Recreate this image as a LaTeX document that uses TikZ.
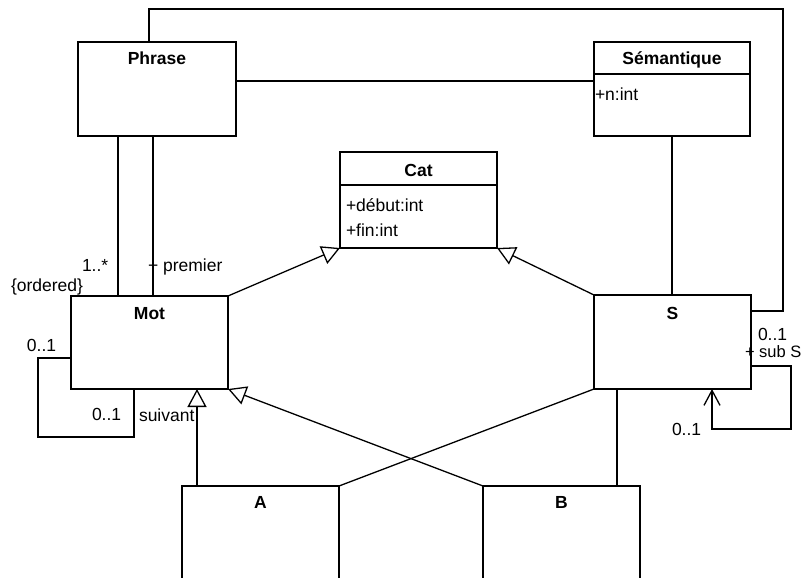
\documentclass[tikz,border=0pt]{standalone}
\usepackage{fontspec}
\setmainfont{Liberation Sans}
\usetikzlibrary{arrows.meta}
\begin{document}
\begin{tikzpicture}[x=1pt,y=-1pt,line width=1.3pt,
  every node/.style={inner sep=0pt,outer sep=0pt,font=\fontsize{17.5}{20}\selectfont},
  clsbox/.style={draw,rectangle,minimum width=157pt,minimum height=94pt},
  title/.style={anchor=base,font=\fontsize{17.5}{20}\selectfont\bfseries},
  lbl/.style={anchor=base west},
  gen/.style={-{Triangle[open,length=18pt,width=19pt]}},
  nav/.style={-{Straight Barb[length=15pt,width=16pt]}}]
\useasboundingbox (0,0) rectangle (803,578);
\clip (0,0) rectangle (803,578);
% classes
\node[clsbox,minimum width=158pt] (phrase) at (157,89) {};
\node[title] (phraset) at ([yshift=-23pt]phrase.north) {Phrase};
\node[clsbox,minimum width=156pt] (sem) at (672,89) {};
\node[title] (semt) at ([yshift=-23pt]sem.north) {Sémantique};
\draw (sem.west |- 0,74) -- (sem.east |- 0,74);
\node[lbl] (semn) at (595,100) {+n:int};
\node[clsbox,minimum height=96pt] (cat) at (418.5,200) {};
\node[title] (catt) at ([yshift=-24pt]cat.north) {Cat};
\draw (cat.west |- 0,185) -- (cat.east |- 0,185);
\node[lbl] (catd) at (346,211) {+début:int};
\node[lbl] (catf) at (346,236) {+fin:int};
\node[clsbox,minimum height=93pt] (mot) at (149.5,342.5) {};
\node[title] (mott) at ([yshift=-23pt]mot.north) {Mot};
\node[clsbox] (s) at (672.5,342) {};
\node[title] (st) at ([yshift=-24pt]s.north) {S};
\node[clsbox,minimum height=140pt] (a) at (260.5,556) {};
\node[title] (at) at ([yshift=-22pt]a.north) {A};
\node[clsbox,minimum height=140pt] (b) at (561.5,556) {};
\node[title] (bt) at ([yshift=-22pt]b.north) {B};
% connectors
\draw ([xshift=-8pt]phrase.north) -- (149,9) -- (783,9) -- (783,311) -- ([yshift=31pt]s.east);
\draw ([yshift=8pt]phrase.east) -- ([yshift=8pt]sem.west);
\draw (118,0 |- phrase.south) -- (118,0 |- mot.north);
\draw (153,0 |- phrase.south) -- (153,0 |- mot.north);
\draw (sem.south) -- (sem.south |- s.north);
\draw[gen] (mot.north east) -- (cat.south west);
\draw[gen] (s.north west) -- (cat.south east);
\draw[gen] (197,0 |- a.north) -- (197,0 |- mot.south);
\draw[gen] (b.north west) -- (mot.south east);
\draw (a.north east) -- (s.south west);
\draw (617,0 |- b.north) -- (617,0 |- s.south);
\draw ([yshift=-15.5pt]mot.west) -- (38,358) -- (38,437) -- (134,437) -- (134,0 |- mot.south);
\draw[nav] ([yshift=-24pt]s.east) -- (791,366) -- (791,429) -- (712,429) -- (712,0 |- s.south);
% labels
\node[lbl] (l1) at (82,271) {1..*};
\node[lbl] (l2) at (148,271) {+ premier};
\node[lbl] (l3) at (11,291) {\{ordered\}};
\node[lbl] (l4) at (27,351) {0..1};
\node[lbl] (l5) at (92,420) {0..1};
\node[lbl] (l6) at (139,421) {suivant};
\node[lbl] (l7) at (758,340) {0..1};
\node[lbl,font=\fontsize{16.5}{20}\selectfont] (l8) at (745,357) {+ sub S};
\node[lbl] (l9) at (672,435) {0..1};
\end{tikzpicture}
\end{document}
